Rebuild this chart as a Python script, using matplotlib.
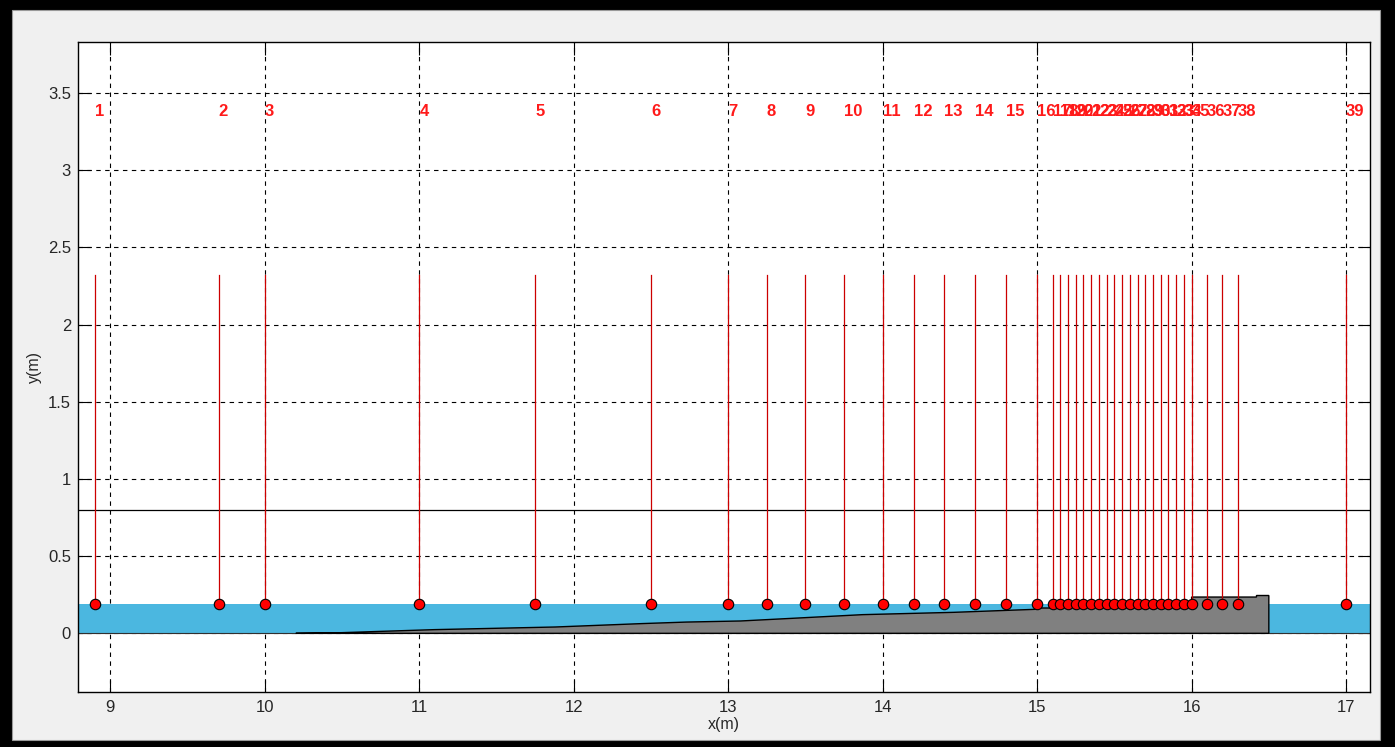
import matplotlib
matplotlib.use("Agg")
import matplotlib.pyplot as plt
from matplotlib.patches import Rectangle, Polygon

# ---------------- data ----------------
probe_x = [8.9, 9.7, 10.0, 11.0, 11.75, 12.5, 13.0, 13.25, 13.5, 13.75,
           14.0, 14.2, 14.4, 14.6, 14.8, 15.0, 15.1, 15.15, 15.2, 15.25,
           15.3, 15.35, 15.4, 15.45, 15.5, 15.55, 15.6, 15.65, 15.7, 15.75,
           15.8, 15.85, 15.9, 15.95, 16.0, 16.1, 16.2, 16.3, 17.0]
probe_labels = [str(i) for i in range(1, 40)]
probe_y = 0.19          # gauge position (water surface)
probe_top = 2.32        # top of the vertical gauge lines
label_y = 3.38          # height of gauge numbers

water_level = 0.19
ref_line_y = 0.8

ramp_x = [10.2, 10.49, 10.76, 11.10, 11.88, 12.44, 12.73, 13.08, 13.41,
          13.87, 14.46, 15.0, 15.0, 15.1, 15.1, 16.0, 16.0, 16.42, 16.42, 16.5, 16.5]
ramp_y = [0.0, 0.004, 0.013, 0.024, 0.041, 0.063, 0.073, 0.080, 0.097,
          0.121, 0.136, 0.156, 0.164, 0.164, 0.20, 0.20, 0.235, 0.235, 0.245, 0.245, 0.0]

xticks = [9, 10, 11, 12, 13, 14, 15, 16, 17]
yticks = [0, 0.5, 1, 1.5, 2, 2.5, 3, 3.5]
ytick_labels = ["0", "0.5", "1", "1.5", "2", "2.5", "3", "3.5"]
xlim = (8.79, 17.155)
ylim = (-0.38, 3.83)

# ---------------- figure ----------------
W, H = 1395, 747
fig = plt.figure(figsize=(W / 100, H / 100), dpi=100)
fig.patch.set_facecolor("black")
bg = Rectangle((12 / W, 7 / H), (1380 - 12) / W, (740 - 10) / H,
               transform=fig.transFigure, facecolor="#f0f0f0",
               edgecolor="#9a9a9a", linewidth=0.8, zorder=-10)
fig.add_artist(bg)

ax = fig.add_axes([78 / W, (747 - 692) / H, (1370 - 78) / W, (692 - 42) / H])
ax.set_zorder(5)
ax.set_facecolor("white")
ax.set_xlim(*xlim)
ax.set_ylim(*ylim)

font = "Liberation Sans"
tick_color = "#262626"

# water
ax.add_patch(Rectangle((xlim[0], 0), xlim[1] - xlim[0], water_level,
                       facecolor="#4bb7e0", edgecolor="none", zorder=1))
ax.plot(list(xlim), [0, 0], color="#303030", lw=0.8, zorder=1.5)

# ramp
ax.add_patch(Polygon(list(zip(ramp_x, ramp_y)), closed=True,
                     facecolor="#808080", edgecolor="black", lw=1.0, zorder=2))

# reference horizontal line
ax.axhline(ref_line_y, color="black", lw=0.9, zorder=2)

# gauges
for x, lab in zip(probe_x, probe_labels):
    ax.plot([x, x], [probe_y, probe_top], color="#cc0000", lw=0.9, zorder=3)
    ax.text(x, label_y, lab, color="#ff1a1a", fontweight="bold", fontsize=12,
            ha="left", va="center", family=font, zorder=4)
ax.plot(probe_x, [probe_y] * len(probe_x), "o", color="#ff0000", mec="black",
        mew=0.8, ms=7.5, zorder=5)

# grid / ticks
ax.set_xticks(xticks)
ax.set_yticks(yticks)
ax.set_yticklabels(ytick_labels)
ax.set_axisbelow(True)
ax.grid(True, color="black", lw=0.8, linestyle=(0, (4, 4)))
ax.tick_params(direction="in", top=True, right=True, length=9, width=0.8,
               labelsize=12, labelcolor=tick_color, pad=6)
ax.tick_params(axis="y", pad=5)
for lbl in ax.get_xticklabels() + ax.get_yticklabels():
    lbl.set_family(font)
for s in ax.spines.values():
    s.set_linewidth(1.0)
    s.set_color("black")

ax.set_xlabel("x(m)", fontsize=11.5, family=font, color=tick_color, labelpad=1)
ax.set_ylabel("y(m)", fontsize=11.5, family=font, color=tick_color, labelpad=4)

fig.savefig("out.png", dpi=100, facecolor=fig.get_facecolor())
